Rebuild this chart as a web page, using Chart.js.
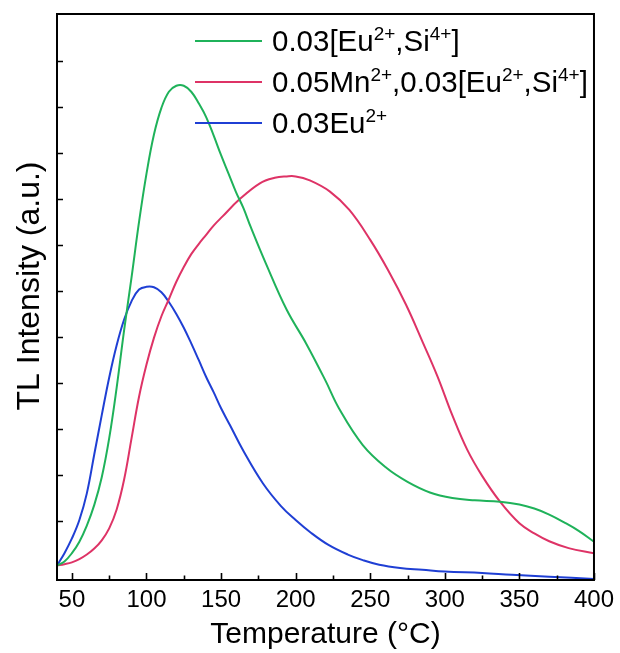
<!DOCTYPE html>
<html>
<head>
<meta charset="utf-8">
<script src="https://cdn.jsdelivr.net/npm/chart.js@4.4.1/dist/chart.umd.min.js"></script>
<style>
    html, body { margin: 0; padding: 0; background: #ffffff; }
    #caixa { width: 620px; height: 653px; position: relative; }
</style>
</head>
<body>
<div id="caixa"><canvas id="grafico"></canvas></div>
<script>

//***********************
//Dados
//***********************
const temperaturas_eu_si = [40,45,50,55,60,65,70,75,80,85,90,95,100,105,110,115,120,125,130,135,140,145,150,155,160,165,170,180,194,207,220,229,245,261,275,290,305,320,337,350,360,370,380,390,400];
const valores_eu_si = [0.03,0.12,0.3,0.55,0.9,1.35,1.95,2.8,3.9,5.15,6.3,7.5,8.55,9.4,9.98,10.33,10.46,10.46,10.33,10.08,9.78,9.38,8.95,8.55,8.15,7.8,7.38,6.6,5.59,4.86,4.05,3.45,2.65,2.15,1.85,1.62,1.5,1.45,1.42,1.36,1.27,1.14,0.97,0.78,0.55];

const temperaturas_mn = [40,45,50,55,60,65,70,75,80,85,90,95,100,105,110,115,120,125,130,135,140,145,151,162,176,186,194,200,209,223,236,250,262,274,285,295,305,315,325,337,350,360,370,383,400];
const valores_mn = [0.03,0.06,0.1,0.17,0.27,0.4,0.58,0.84,1.25,1.9,2.8,3.7,4.4,4.98,5.45,5.82,6.2,6.52,6.8,7.02,7.22,7.42,7.62,7.98,8.34,8.46,8.49,8.49,8.41,8.16,7.76,7.11,6.45,5.7,4.9,4.15,3.3,2.55,1.98,1.42,0.95,0.73,0.56,0.41,0.3];

const temperaturas_eu = [40,45,50,55,60,65,70,75,80,85,90,95,100,105,110,115,120,125,130,135,140,145,150,156,165,178,190,200,210,222,235,245,256,270,285,300,325,345,370,400];
const valores_eu = [0.03,0.3,0.62,1.02,1.6,2.45,3.3,4.12,4.82,5.38,5.78,6.03,6.09,6.08,5.97,5.76,5.5,5.2,4.86,4.5,4.13,3.8,3.45,3.08,2.52,1.82,1.33,1.02,0.75,0.48,0.27,0.15,0.05,-0.02,-0.06,-0.1,-0.13,-0.17,-0.21,-0.26];

//Legenda: o que estiver entre chaves vai como sobrescrito
const rotulos = ['0.03[Eu{2+},Si{4+}]', '0.05Mn{2+},0.03[Eu{2+},Si{4+}]', '0.03Eu{2+}'];
const cores = ['#1fb25a', '#de3366', '#1f3fd4'];

//Marcas dos eixos
const ticks_x = [50,75,100,125,150,175,200,225,250,275,300,325,350,375,400];
const ticks_y = [1,2,3,4,5,6,7,8,9,10,11];

const titulo_y = 'TL Intensity (a.u.)';
const titulo_x = 'Temperature (°C)';

const FONTE = "'Liberation Sans', Arial, sans-serif";


function montar_pontos(temperaturas, valores){
    return temperaturas.map((t, i) => ({x: t, y: valores[i]}));
}


//***********************
//Plugin: moldura, marcas para dentro, titulo do eixo y e legenda com sobrescrito
//***********************
const plugin_moldura = {
    id: 'moldura',
    afterDraw(chart){
        const ctx = chart.ctx;
        const area = chart.chartArea;
        const sx = chart.scales.x;
        const sy = chart.scales.y;

        ctx.save();
        ctx.strokeStyle = '#000';
        ctx.lineWidth = 2;
        ctx.strokeRect(area.left, area.top, area.right - area.left, area.bottom - area.top);

        ctx.lineWidth = 1.6;
        ctx.beginPath();
        sx.ticks.forEach(tk => {
            const px = Math.round(sx.getPixelForValue(tk.value)) + 0.5;
            const tam = (tk.value % 50 === 0) ? 7 : 4.5;
            ctx.moveTo(px, area.bottom);
            ctx.lineTo(px, area.bottom - tam);
        });
        sy.ticks.forEach(tk => {
            const py = Math.round(sy.getPixelForValue(tk.value)) + 0.5;
            ctx.moveTo(area.left, py);
            ctx.lineTo(area.left + 6, py);
        });
        ctx.stroke();

        //Titulo do eixo y (um pouco acima do centro, como no original)
        ctx.save();
        ctx.translate(30, 286);
        ctx.rotate(-Math.PI / 2);
        ctx.fillStyle = '#000';
        ctx.font = '32px ' + FONTE;
        ctx.textAlign = 'center';
        ctx.textBaseline = 'middle';
        ctx.fillText(titulo_y, 0, 0);
        ctx.restore();

        //Legenda
        const x_linha = 195, comp_linha = 67, x_texto = 272;
        let y_linha = 41;
        chart.data.datasets.forEach(ds => {
            ctx.strokeStyle = ds.borderColor;
            ctx.lineWidth = 2.2;
            ctx.beginPath();
            ctx.moveTo(x_linha, y_linha);
            ctx.lineTo(x_linha + comp_linha, y_linha);
            ctx.stroke();

            ctx.fillStyle = '#000';
            ctx.textBaseline = 'alphabetic';
            let x = x_texto;
            const base = y_linha + 10;
            ds.label.split(/(\{[^}]*\})/).forEach(parte => {
                if (!parte) return;
                if (parte[0] === '{') {
                    ctx.font = '19px ' + FONTE;
                    const s = parte.slice(1, -1);
                    ctx.fillText(s, x, base - 11);
                    x += ctx.measureText(s).width;
                } else {
                    ctx.font = '29.5px ' + FONTE;
                    ctx.fillText(parte, x, base);
                    x += ctx.measureText(parte).width;
                }
            });
            y_linha += 41;
        });
        ctx.restore();
    }
};


const conjuntos = [
    {temperaturas: temperaturas_eu_si, valores: valores_eu_si},
    {temperaturas: temperaturas_mn, valores: valores_mn},
    {temperaturas: temperaturas_eu, valores: valores_eu}
];

const grafico = new Chart(document.getElementById('grafico').getContext('2d'), {
    type: 'line',
    data: {
        datasets: conjuntos.map((c, i) => ({
            label: rotulos[i],
            data: montar_pontos(c.temperaturas, c.valores),
            borderColor: cores[i],
            borderWidth: 2,
            pointRadius: 0,
            fill: false,
            tension: 0.4
        }))
    },
    options: {
        responsive: true,
        maintainAspectRatio: false,
        animation: false,
        layout: { padding: {top: 14, right: 25, left: 0, bottom: 0} },
        plugins: {
            legend: { display: false },
            tooltip: { enabled: false }
        },
        scales: {
            x: {
                type: 'linear',
                min: 40,
                max: 400,
                afterBuildTicks: (escala) => {
                    escala.ticks = ticks_x.map(v => ({value: v}));
                },
                afterFit: (escala) => { escala.height = 73; },
                ticks: {
                    autoSkip: false,
                    maxRotation: 0,
                    padding: 6,
                    color: '#000',
                    font: {family: FONTE, size: 24},
                    callback: (v) => (v % 50 === 0 ? String(v) : '')
                },
                grid: { display: false, drawTicks: false },
                border: { display: false },
                title: {
                    display: true,
                    text: titulo_x,
                    color: '#000',
                    font: {family: FONTE, size: 30},
                    padding: {top: 1, bottom: 0}
                }
            },
            y: {
                type: 'linear',
                min: -0.283,
                max: 12.02,
                afterBuildTicks: (escala) => {
                    escala.ticks = ticks_y.map(v => ({value: v}));
                },
                afterFit: (escala) => { escala.width = 57; },
                ticks: { display: false },
                grid: { display: false, drawTicks: false },
                border: { display: false },
                title: { display: false }
            }
        }
    },
    plugins: [plugin_moldura]
});

</script>
</body>
</html>
